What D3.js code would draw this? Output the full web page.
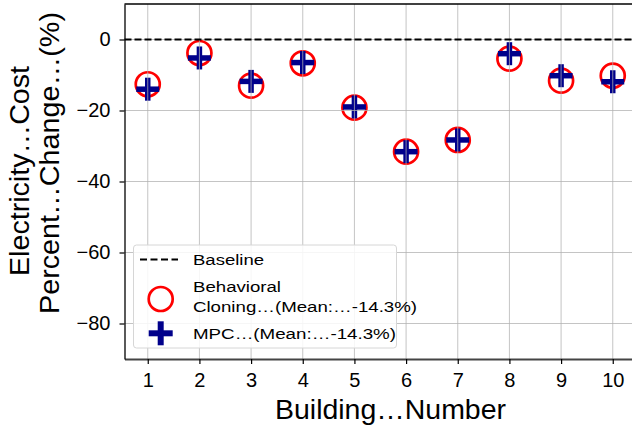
<!DOCTYPE html>
<html>
<head>
<meta charset="utf-8">
<script src="https://cdn.jsdelivr.net/npm/d3@7"></script>
<style>
  body { margin: 0; background: #fff; }
  svg { display: block; font-family: "Liberation Sans", Arial, sans-serif; }
</style>
</head>
<body>
<script>
// values
const buildings = [1, 2, 3, 4, 5, 6, 7, 8, 9, 10];
const bcValues = [-12.6, -3.8, -13.0, -6.7, -19.2, -31.6, -28.3, -5.4, -11.6, -10.2];
const mpcValues = [-14.0, -5.2, -11.8, -6.5, -19.0, -31.6, -28.3, -4.0, -10.2, -11.9];
const yTicks = [0, -20, -40, -60, -80];
const legendLabels = ["Baseline", "Behavioral", "Cloning…(Mean:…-14.3%)", "MPC…(Mean:…-14.3%)"];

const width = 632, height = 430;
const plotLeft = 124.5, plotRight = 636, plotTop = 4, plotBottom = 359;

const svg = d3.select("body").append("svg")
  .attr("width", width)
  .attr("height", height);

const x = d3.scaleLinear().domain([0.55, 10.45]).range([plotLeft, plotRight]);
const y = d3.scaleLinear().domain([-90, 10]).range([plotBottom, plotTop]);

const plot = svg.append("g");

// markers
plot.selectAll(".bc")
  .data(buildings)
  .enter().append("circle")
  .attr("class", "bc")
  .attr("cx", d => x(d))
  .attr("cy", (d, i) => y(bcValues[i]))
  .attr("r", 12)
  .attr("fill", "none")
  .attr("stroke", "#ff0000")
  .attr("stroke-width", 2.7);

const plus = (g, s, w) => {
  g.append("line").attr("x1", -s / 2).attr("x2", s / 2).attr("y1", 0).attr("y2", 0);
  g.append("line").attr("x1", 0).attr("x2", 0).attr("y1", -s / 2).attr("y2", s / 2);
  g.selectAll("line").attr("stroke", "#00008b").attr("stroke-width", w);
};

plot.selectAll(".mpc")
  .data(buildings)
  .enter().append("g")
  .attr("class", "mpc")
  .attr("transform", (d, i) => `translate(${x(d)},${y(mpcValues[i])})`)
  .each(function () { plus(d3.select(this), 23, 5.5); });

// grid drawn over the markers, like the reference
const grid = svg.append("g").attr("stroke", "#b0b0b0").attr("stroke-opacity", 0.75).attr("stroke-width", 1);
grid.selectAll(".gx")
  .data(buildings)
  .enter().append("line")
  .attr("x1", d => x(d)).attr("x2", d => x(d))
  .attr("y1", plotTop).attr("y2", plotBottom);
grid.selectAll(".gy")
  .data(yTicks)
  .enter().append("line")
  .attr("x1", plotLeft).attr("x2", plotRight)
  .attr("y1", d => y(d)).attr("y2", d => y(d));

// baseline at zero
svg.append("line")
  .attr("x1", plotLeft).attr("x2", plotRight)
  .attr("y1", y(0)).attr("y2", y(0))
  .attr("stroke", "#000")
  .attr("stroke-width", 2)
  .attr("stroke-dasharray", "7,3");

// axes
const xAxis = svg.append("g")
  .attr("transform", `translate(0,${plotBottom})`)
  .call(d3.axisBottom(x).tickValues(buildings).tickSizeInner(5).tickSizeOuter(0).tickPadding(9));
xAxis.select(".domain").attr("stroke", "#444").attr("stroke-width", 2);

const yAxis = svg.append("g")
  .attr("transform", `translate(${plotLeft},0)`)
  .call(d3.axisLeft(y).tickValues(yTicks).tickSizeInner(5).tickSizeOuter(0).tickPadding(9));
yAxis.select(".domain").attr("stroke", "#000").attr("stroke-width", 1.3);

svg.selectAll(".tick line").attr("stroke", "#000").attr("stroke-width", 1.2);
svg.selectAll(".tick text").attr("font-size", 20).attr("fill", "#000")
  .attr("font-family", "'Liberation Sans', Arial, sans-serif");

// top spine
svg.append("line")
  .attr("x1", plotLeft).attr("x2", plotRight)
  .attr("y1", plotTop).attr("y2", plotTop)
  .attr("stroke", "#000").attr("stroke-width", 1.3);

// axis labels (the reference face runs a little wider than Liberation Sans)
svg.append("text")
  .attr("x", 390.5).attr("y", 419)
  .attr("text-anchor", "middle")
  .attr("font-size", 27)
  .attr("textLength", 231).attr("lengthAdjust", "spacingAndGlyphs")
  .text("Building…Number");

const yl = [["Electricity…Cost", 29, 171, 210], ["Percent…Change…(%)", 59, 163, 302]];
yl.forEach(([t, px, cy, len]) => {
  svg.append("text")
    .attr("transform", `translate(${px},${cy}) rotate(-90)`)
    .attr("text-anchor", "middle")
    .attr("font-size", 27)
    .attr("textLength", len).attr("lengthAdjust", "spacingAndGlyphs")
    .text(t);
});

// legend
const lg = svg.append("g");
lg.append("rect")
  .attr("x", 133.5).attr("y", 245)
  .attr("width", 263).attr("height", 103)
  .attr("rx", 3)
  .attr("fill", "#fff").attr("fill-opacity", 0.85)
  .attr("stroke", "#d6d6d6").attr("stroke-width", 1);

lg.append("line")
  .attr("x1", 140).attr("x2", 178)
  .attr("y1", 259.5).attr("y2", 259.5)
  .attr("stroke", "#000").attr("stroke-width", 2)
  .attr("stroke-dasharray", "7,3.5");

lg.append("circle")
  .attr("cx", 160.7).attr("cy", 299)
  .attr("r", 12)
  .attr("fill", "none")
  .attr("stroke", "#ff0000").attr("stroke-width", 2.7);

plus(lg.append("g").attr("transform", "translate(160.7,333.3)"), 24, 6);

const legendRows = [[265, 71], [292.3, 88], [312.3, 224], [339, 203]];
legendRows.forEach(([by, len], i) => {
  lg.append("text")
    .attr("x", 193).attr("y", by)
    .attr("font-size", 15.5)
    .attr("textLength", len).attr("lengthAdjust", "spacingAndGlyphs")
    .text(legendLabels[i]);
});
</script>
</body>
</html>
